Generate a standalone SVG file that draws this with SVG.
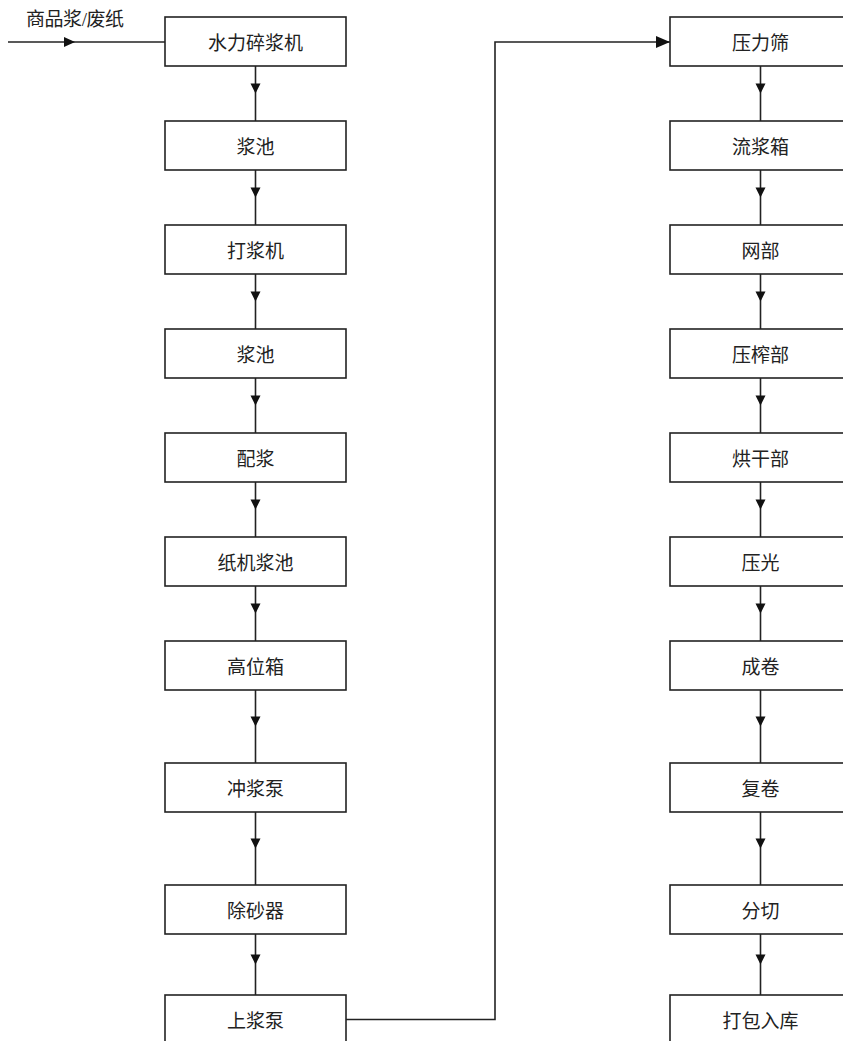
<svg xmlns="http://www.w3.org/2000/svg" xmlns:xlink="http://www.w3.org/1999/xlink" width="843" height="1041" viewBox="0 0 843 1041">
<style>
.box{fill:#fff;stroke:#222;stroke-width:1.6}
.ln{fill:none;stroke:#222;stroke-width:1.6}
.ah{fill:#111;stroke:none}
text{font-family:"Liberation Serif","Noto Sans CJK SC",serif;font-size:19px;fill:#222;text-anchor:middle}
</style>
<defs>
<polygon id="ad" class="ah" points="-5,-10 5,-10 0,0"/>
</defs>
<rect width="843" height="1041" fill="#fff"/>
<g id="connectors">
<polyline class="ln" points="8,42 165,42"/>
<polygon class="ah" points="64,37 64,47 75,42"/>
<polyline class="ln" points="346,1019.5 495,1019.5 495,42 670,42"/>
<polygon class="ah" points="656,36 656,48 670,42"/>
<line class="ln" x1="255.5" y1="66" x2="255.5" y2="121"/><use xlink:href="#ad" x="255.5" y="93.5"/>
<line class="ln" x1="255.5" y1="170" x2="255.5" y2="225"/><use xlink:href="#ad" x="255.5" y="197.5"/>
<line class="ln" x1="255.5" y1="274" x2="255.5" y2="329"/><use xlink:href="#ad" x="255.5" y="301.5"/>
<line class="ln" x1="255.5" y1="378" x2="255.5" y2="433"/><use xlink:href="#ad" x="255.5" y="405.5"/>
<line class="ln" x1="255.5" y1="482" x2="255.5" y2="537"/><use xlink:href="#ad" x="255.5" y="509.5"/>
<line class="ln" x1="255.5" y1="586" x2="255.5" y2="641"/><use xlink:href="#ad" x="255.5" y="613.5"/>
<line class="ln" x1="255.5" y1="690" x2="255.5" y2="763"/><use xlink:href="#ad" x="255.5" y="726.5"/>
<line class="ln" x1="255.5" y1="812" x2="255.5" y2="885"/><use xlink:href="#ad" x="255.5" y="848.5"/>
<line class="ln" x1="255.5" y1="934" x2="255.5" y2="995"/><use xlink:href="#ad" x="255.5" y="964.5"/>
<line class="ln" x1="760.5" y1="66" x2="760.5" y2="121"/><use xlink:href="#ad" x="760.5" y="93.5"/>
<line class="ln" x1="760.5" y1="170" x2="760.5" y2="225"/><use xlink:href="#ad" x="760.5" y="197.5"/>
<line class="ln" x1="760.5" y1="274" x2="760.5" y2="329"/><use xlink:href="#ad" x="760.5" y="301.5"/>
<line class="ln" x1="760.5" y1="378" x2="760.5" y2="433"/><use xlink:href="#ad" x="760.5" y="405.5"/>
<line class="ln" x1="760.5" y1="482" x2="760.5" y2="537"/><use xlink:href="#ad" x="760.5" y="509.5"/>
<line class="ln" x1="760.5" y1="586" x2="760.5" y2="641"/><use xlink:href="#ad" x="760.5" y="613.5"/>
<line class="ln" x1="760.5" y1="690" x2="760.5" y2="763"/><use xlink:href="#ad" x="760.5" y="726.5"/>
<line class="ln" x1="760.5" y1="812" x2="760.5" y2="885"/><use xlink:href="#ad" x="760.5" y="848.5"/>
<line class="ln" x1="760.5" y1="934" x2="760.5" y2="995"/><use xlink:href="#ad" x="760.5" y="964.5"/>
</g>
<g id="label-input"><text x="75" y="26" textLength="98">商品浆/废纸</text></g>
<g id="n1"><rect class="box" x="165" y="17" width="181" height="49"/><text x="255.5" y="49.5">水力碎浆机</text></g>
<g id="n2"><rect class="box" x="165" y="121" width="181" height="49"/><text x="255.5" y="153.5">浆池</text></g>
<g id="n3"><rect class="box" x="165" y="225" width="181" height="49"/><text x="255.5" y="257.5">打浆机</text></g>
<g id="n4"><rect class="box" x="165" y="329" width="181" height="49"/><text x="255.5" y="361.5">浆池</text></g>
<g id="n5"><rect class="box" x="165" y="433" width="181" height="49"/><text x="255.5" y="465.5">配浆</text></g>
<g id="n6"><rect class="box" x="165" y="537" width="181" height="49"/><text x="255.5" y="569.5">纸机浆池</text></g>
<g id="n7"><rect class="box" x="165" y="641" width="181" height="49"/><text x="255.5" y="673.5">高位箱</text></g>
<g id="n8"><rect class="box" x="165" y="763" width="181" height="49"/><text x="255.5" y="795.5">冲浆泵</text></g>
<g id="n9"><rect class="box" x="165" y="885" width="181" height="49"/><text x="255.5" y="917.5">除砂器</text></g>
<g id="n10"><rect class="box" x="165" y="995" width="181" height="55"/><text x="255.5" y="1027.5">上浆泵</text></g>
<g id="m1"><rect class="box" x="670" y="17" width="181" height="49"/><text x="760.5" y="49.5">压力筛</text></g>
<g id="m2"><rect class="box" x="670" y="121" width="181" height="49"/><text x="760.5" y="153.5">流浆箱</text></g>
<g id="m3"><rect class="box" x="670" y="225" width="181" height="49"/><text x="760.5" y="257.5">网部</text></g>
<g id="m4"><rect class="box" x="670" y="329" width="181" height="49"/><text x="760.5" y="361.5">压榨部</text></g>
<g id="m5"><rect class="box" x="670" y="433" width="181" height="49"/><text x="760.5" y="465.5">烘干部</text></g>
<g id="m6"><rect class="box" x="670" y="537" width="181" height="49"/><text x="760.5" y="569.5">压光</text></g>
<g id="m7"><rect class="box" x="670" y="641" width="181" height="49"/><text x="760.5" y="673.5">成卷</text></g>
<g id="m8"><rect class="box" x="670" y="763" width="181" height="49"/><text x="760.5" y="795.5">复卷</text></g>
<g id="m9"><rect class="box" x="670" y="885" width="181" height="49"/><text x="760.5" y="917.5">分切</text></g>
<g id="m10"><rect class="box" x="670" y="995" width="181" height="55"/><text x="760.5" y="1027.5">打包入库</text></g>
</svg>
